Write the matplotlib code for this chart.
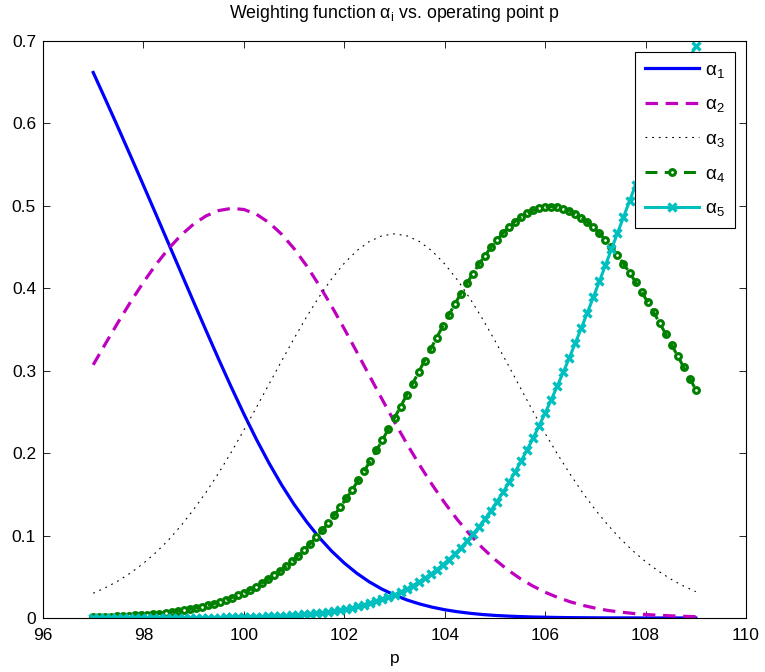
import matplotlib
matplotlib.use("Agg")
import matplotlib.pyplot as plt
import numpy as np
from matplotlib.lines import Line2D

plt.rcParams["font.family"] = ["Liberation Sans", "DejaVu Sans"]
plt.rcParams["mathtext.fontset"] = "custom"
plt.rcParams["mathtext.rm"] = "Liberation Sans"
plt.rcParams["mathtext.it"] = "Liberation Sans:italic"

# operating point grids (plain lines every 0.25, marked lines every 0.12)
p_line = np.linspace(97, 109, 49)
p_mark = np.linspace(97, 109, 101)

alpha1 = [0.6618, 0.6283, 0.5943, 0.5598, 0.5249, 0.4897, 0.4543, 0.4188, 0.3834,
          0.3483, 0.3137, 0.2800, 0.2475, 0.2167, 0.1880, 0.1616, 0.1378, 0.1167,
          0.0976, 0.0810, 0.0666, 0.0542, 0.0437, 0.0350, 0.0278, 0.0218, 0.0170,
          0.0131, 0.0100, 0.0076, 0.0057, 0.0042, 0.0031, 0.0023, 0.0017, 0.0012,
          0.0009, 0.0006, 0.0004, 0.0003, 0.0002, 0.0001, 0.0001, 0.0001, 0.0000,
          0.0000, 0.0000, 0.0000, 0.0000]
alpha2 = [0.3071, 0.3334, 0.3592, 0.3840, 0.4073, 0.4288, 0.4480, 0.4645, 0.4779,
          0.4879, 0.4943, 0.4969, 0.4956, 0.4898, 0.4797, 0.4657, 0.4481, 0.4272,
          0.4036, 0.3780, 0.3508, 0.3226, 0.2940, 0.2656, 0.2378, 0.2109, 0.1855,
          0.1616, 0.1396, 0.1194, 0.1013, 0.0851, 0.0709, 0.0586, 0.0479, 0.0389,
          0.0312, 0.0249, 0.0196, 0.0153, 0.0119, 0.0091, 0.0072, 0.0055, 0.0042,
          0.0033, 0.0026, 0.0020, 0.0016]
alpha3 = [0.0300, 0.0369, 0.0451, 0.0549, 0.0663, 0.0795, 0.0946, 0.1121, 0.1316,
          0.1528, 0.1760, 0.2012, 0.2279, 0.2554, 0.2836, 0.3116, 0.3391, 0.3653,
          0.3897, 0.4116, 0.4304, 0.4456, 0.4568, 0.4637, 0.4660, 0.4636, 0.4566,
          0.4451, 0.4295, 0.4103, 0.3879, 0.3631, 0.3364, 0.3085, 0.2800, 0.2516,
          0.2238, 0.1983, 0.1742, 0.1517, 0.1312, 0.1127, 0.0960, 0.0813, 0.0683,
          0.0571, 0.0472, 0.0389, 0.0319]
alpha4 = [0.0010, 0.0012, 0.0014, 0.0016, 0.0019, 0.0022, 0.0026, 0.0030, 0.0035,
          0.0040, 0.0046, 0.0053, 0.0061, 0.0070, 0.0080, 0.0092, 0.0104, 0.0119,
          0.0135, 0.0152, 0.0172, 0.0194, 0.0218, 0.0245, 0.0274, 0.0306, 0.0341,
          0.0380, 0.0422, 0.0467, 0.0516, 0.0569, 0.0627, 0.0688, 0.0754, 0.0824,
          0.0899, 0.0979, 0.1063, 0.1153, 0.1247, 0.1346, 0.1450, 0.1558, 0.1670,
          0.1787, 0.1908, 0.2033, 0.2161, 0.2293, 0.2427, 0.2564, 0.2702, 0.2842,
          0.2982, 0.3123, 0.3263, 0.3402, 0.3539, 0.3675, 0.3806, 0.3935, 0.4058,
          0.4177, 0.4290, 0.4396, 0.4495, 0.4587, 0.4670, 0.4745, 0.4810, 0.4866,
          0.4911, 0.4947, 0.4972, 0.4986, 0.4990, 0.4983, 0.4966, 0.4940, 0.4903,
          0.4858, 0.4802, 0.4738, 0.4666, 0.4585, 0.4496, 0.4401, 0.4298, 0.4190,
          0.4076, 0.3957, 0.3834, 0.3708, 0.3578, 0.3446, 0.3312, 0.3177, 0.3041,
          0.2905, 0.2770]
alpha5 = [0.0000, 0.0000, 0.0000, 0.0000, 0.0000, 0.0000, 0.0000, 0.0000, 0.0000,
          0.0001, 0.0001, 0.0001, 0.0001, 0.0001, 0.0002, 0.0002, 0.0002, 0.0003,
          0.0003, 0.0004, 0.0004, 0.0005, 0.0006, 0.0007, 0.0008, 0.0010, 0.0011,
          0.0013, 0.0015, 0.0018, 0.0021, 0.0024, 0.0028, 0.0033, 0.0038, 0.0043,
          0.0050, 0.0057, 0.0065, 0.0074, 0.0085, 0.0096, 0.0109, 0.0124, 0.0140,
          0.0158, 0.0178, 0.0201, 0.0225, 0.0252, 0.0282, 0.0315, 0.0351, 0.0390,
          0.0433, 0.0480, 0.0530, 0.0585, 0.0645, 0.0709, 0.0777, 0.0851, 0.0931,
          0.1015, 0.1105, 0.1201, 0.1303, 0.1411, 0.1525, 0.1644, 0.1770, 0.1902,
          0.2039, 0.2182, 0.2332, 0.2486, 0.2646, 0.2811, 0.2980, 0.3155, 0.3334,
          0.3517, 0.3703, 0.3892, 0.4084, 0.4278, 0.4473, 0.4668, 0.4864, 0.5058,
          0.5252, 0.5443, 0.5631, 0.5816, 0.5995, 0.6170, 0.6338, 0.6500, 0.6654,
          0.6800, 0.6936]

labels = [r"$\mathrm{\alpha}_1$", r"$\mathrm{\alpha}_2$", r"$\mathrm{\alpha}_3$",
          r"$\mathrm{\alpha}_4$", r"$\mathrm{\alpha}_5$"]

BLUE = "#0000ff"
MAGENTA = "#bf00bf"
GREEN = "#008000"
CYAN = "#00bfbf"

DASH = (0, (3.9, 2.4))
DOT = (0, (1.6, 4.4))

fig = plt.figure(figsize=(7.65, 6.72), dpi=100)
ax = fig.add_axes([0.0562, 0.0804, 0.919, 0.8586])

ax.plot(p_line, alpha1, color=BLUE, lw=2.3)
ax.plot(p_line, alpha2, color=MAGENTA, lw=2.3, ls=DASH)
ax.plot(p_line, alpha3, color="black", lw=0.8, ls=DOT)
# circles first, dashed line drawn over them
ax.plot(p_mark, alpha4, ls="none", marker="o", ms=4.2, mew=2.2,
        mec=GREEN, mfc="white", zorder=2)
ax.plot(p_mark, alpha4, color=GREEN, lw=2.2, ls=DASH, zorder=2.1)
ax.plot(p_mark, alpha5, color=CYAN, lw=2.2, marker="x", ms=6, mew=2.4,
        mec=CYAN, zorder=2.2)

ax.set_xlim(96, 110)
ax.set_ylim(0, 0.7)
ax.set_xticks(np.arange(96, 111, 2))
ax.set_yticks(np.arange(0, 0.71, 0.1))
ax.set_yticklabels(["0", "0.1", "0.2", "0.3", "0.4", "0.5", "0.6", "0.7"])
ax.tick_params(direction="in", top=True, right=True, length=5, width=0.6,
               labelsize=12.5)
ax.tick_params(axis="x", pad=7)
ax.tick_params(axis="y", pad=5)
for s in ax.spines.values():
    s.set_linewidth(0.8)

ax.set_xlabel("p", fontsize=12.5, labelpad=6)
fig.text(0.5156, 1 - 18 / 672,
         r"Weighting function $\mathrm{\alpha}_\mathrm{i}$ vs. operating point p",
         fontsize=12.8, ha="center", va="baseline")

handles = [
    Line2D([], [], color=BLUE, lw=2.3),
    Line2D([], [], color=MAGENTA, lw=2.3, ls=DASH),
    Line2D([], [], color="black", lw=0.8, ls=DOT),
    Line2D([], [], color=GREEN, lw=2.2, ls=DASH, marker="o",
           ms=4.2, mew=2.2, mec=GREEN, mfc="white"),
    Line2D([], [], color=CYAN, lw=2.2, marker="x", ms=6, mew=2.4),
]
leg = ax.legend(handles, labels, loc="upper right", fontsize=13.5,
                handlelength=2.9, handletextpad=0.35, labelspacing=0.88,
                borderpad=0.5, borderaxespad=0.6, fancybox=False,
                framealpha=1, edgecolor="black", numpoints=1)
leg.get_frame().set_linewidth(0.8)

fig.savefig("out.png", dpi=100)
